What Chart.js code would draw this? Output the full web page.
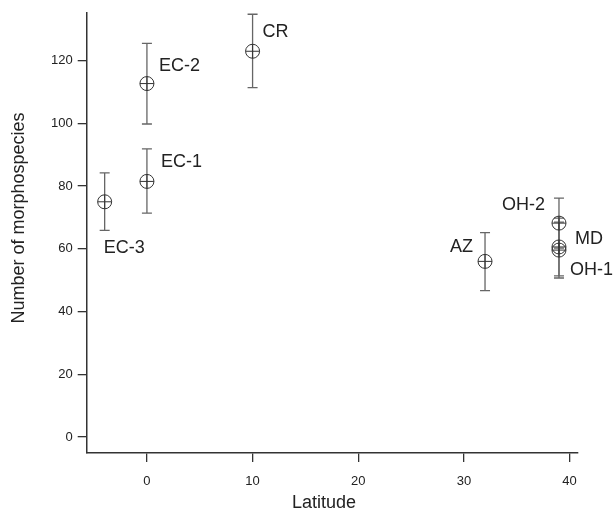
<!DOCTYPE html>
<html>
<head>
<meta charset="utf-8">
<script src="https://cdn.jsdelivr.net/npm/chart.js@4.4.0/dist/chart.umd.min.js"></script>
<style>
  body { margin: 0; background: #fff; }
  #wrap { width: 613px; height: 513px; }
</style>
</head>
<body>
<div id="wrap"><canvas id="latChart" width="613" height="513"></canvas></div>
<script>
// sites, latitude and species counts with error bar limits
var sites = ['EC-3', 'EC-1', 'EC-2', 'CR', 'AZ', 'OH-2', 'MD', 'OH-1'];
var latitude = [-4, 0, 0, 10, 32, 39, 39, 39];
var species = [75.0, 81.5, 112.7, 123.0, 56.0, 68.2, 60.6, 59.6];
var errLow = [65.9, 71.4, 99.8, 111.4, 46.7, 60.2, 51.4, 50.7];
var errHigh = [84.2, 91.9, 125.5, 134.8, 65.2, 76.2, 69.8, 68.5];

var xTicks = [0, 10, 20, 30, 40];
var yTicks = [0, 20, 40, 60, 80, 100, 120];

// where each site label sits relative to its point (px)
var labelPos = [
    {dx: -1, dy: 46, align: 'left'},
    {dx: 14, dy: -19, align: 'left'},
    {dx: 12, dy: -18, align: 'left'},
    {dx: 10, dy: -19, align: 'left'},
    {dx: -12, dy: -14, align: 'right'},
    {dx: -14, dy: -18, align: 'right'},
    {dx: 16, dy: -8, align: 'left'},
    {dx: 11, dy: 20, align: 'left'}
];

var points = latitude.map(function (x, i) {
    return {x: x, y: species[i]};
});

var font = 'Liberation Sans, Arial, sans-serif';

var errorBars = {
    id: 'errorBars',
    beforeDatasetsDraw: function (chart) {
        var ctx = chart.ctx;
        var xs = chart.scales.x, ys = chart.scales.y;
        ctx.save();
        ctx.strokeStyle = '#666';
        ctx.lineWidth = 1.3;
        for (var i = 0; i < latitude.length; i++) {
            var px = xs.getPixelForValue(latitude[i]);
            var lo = ys.getPixelForValue(errLow[i]);
            var hi = ys.getPixelForValue(errHigh[i]);
            ctx.beginPath();
            ctx.moveTo(px, lo);
            ctx.lineTo(px, hi);
            ctx.moveTo(px - 5, lo);
            ctx.lineTo(px + 5, lo);
            ctx.moveTo(px - 5, hi);
            ctx.lineTo(px + 5, hi);
            ctx.stroke();
        }
        ctx.restore();
    }
};

var siteLabels = {
    id: 'siteLabels',
    afterDatasetsDraw: function (chart) {
        var ctx = chart.ctx;
        var xs = chart.scales.x, ys = chart.scales.y;
        ctx.save();
        ctx.fillStyle = '#222';
        ctx.font = '18px ' + font;
        ctx.textBaseline = 'middle';
        for (var i = 0; i < sites.length; i++) {
            var p = labelPos[i];
            ctx.textAlign = p.align;
            ctx.fillText(sites[i],
                xs.getPixelForValue(latitude[i]) + p.dx,
                ys.getPixelForValue(species[i]) + p.dy);
        }
        // axis titles
        ctx.textAlign = 'center';
        ctx.fillText('Latitude', 324, 503);
        ctx.translate(19, 218);
        ctx.rotate(-Math.PI / 2);
        ctx.fillText('Number of morphospecies', 0, 0);
        ctx.restore();
    }
};

var context = document.getElementById('latChart').getContext('2d');

var myChart = new Chart(context, {
    type: 'scatter',
    data: {
        datasets: [{
            data: points,
            pointStyle: 'circle',
            radius: 7,
            borderColor: '#333',
            borderWidth: 1,
            backgroundColor: 'rgba(0,0,0,0)'
        }, {
            data: points,
            pointStyle: 'cross',
            radius: 7,
            borderColor: '#333',
            borderWidth: 1
        }]
    },
    options: {
        responsive: false,
        animation: false,
        events: [],
        layout: {
            padding: {left: 0, top: 13, right: 35, bottom: 0}
        },
        plugins: {
            legend: {display: false},
            tooltip: {enabled: false}
        },
        scales: {
            x: {
                type: 'linear',
                min: -5.7,
                max: 40.8,
                afterFit: function (s) { s.height = 60; },
                afterBuildTicks: function (s) {
                    s.ticks = xTicks.map(function (v) { return {value: v}; });
                },
                grid: {
                    drawOnChartArea: false,
                    drawTicks: true,
                    tickLength: 9,
                    color: '#333',
                    lineWidth: 1.3
                },
                border: {display: true, color: '#333', width: 1.5},
                ticks: {
                    color: '#222',
                    font: {family: font, size: 13},
                    padding: 12,
                    maxRotation: 0
                }
            },
            y: {
                type: 'linear',
                min: -5.1,
                max: 135.2,
                afterFit: function (s) { s.width = 86.7; },
                afterBuildTicks: function (s) {
                    s.ticks = yTicks.map(function (v) { return {value: v}; });
                },
                grid: {
                    drawOnChartArea: false,
                    drawTicks: true,
                    tickLength: 9,
                    color: '#333',
                    lineWidth: 1.3
                },
                border: {display: true, color: '#333', width: 1.5},
                ticks: {
                    color: '#222',
                    font: {family: font, size: 13},
                    padding: 5
                }
            }
        }
    },
    plugins: [errorBars, siteLabels]
});
</script>
</body>
</html>
